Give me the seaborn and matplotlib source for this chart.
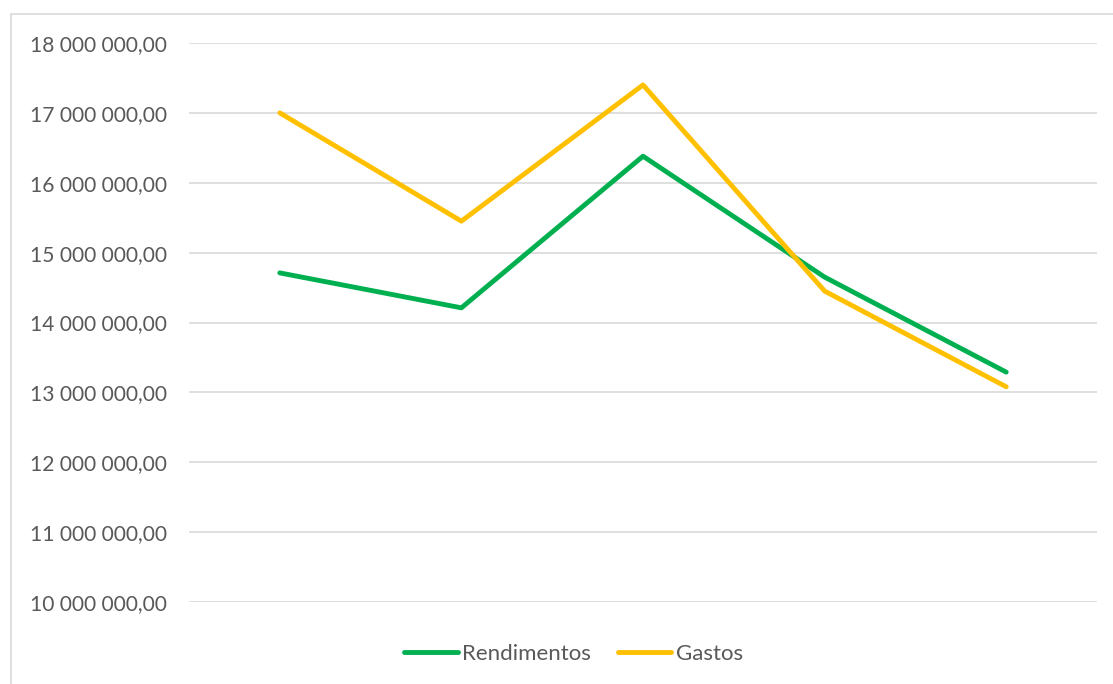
import matplotlib
matplotlib.use("Agg")
import matplotlib.pyplot as plt
import seaborn as sns
import pandas as pd
from matplotlib.patches import Rectangle
from matplotlib.lines import Line2D
from matplotlib.ticker import FuncFormatter

periods = ["P1", "P2", "P3", "P4", "P5"]
rendimentos = [14710000, 14210000, 16380000, 14650000, 13290000]
gastos = [17000000, 15450000, 17400000, 14450000, 13080000]
series_names = ["Rendimentos", "Gastos"]
colors = ["#00B050", "#FFC000"]

df = pd.DataFrame({
    "periodo": periods * 2,
    "x": list(range(len(periods))) * 2,
    "valor": rendimentos + gastos,
    "serie": [series_names[0]] * len(periods) + [series_names[1]] * len(periods),
})

sns.set_theme(style="white")
plt.rcParams["font.family"] = ["Lato", "DejaVu Sans"]

fig = plt.figure(figsize=(11.13, 6.84), dpi=100)
ax = fig.add_axes([189 / 1113, 1 - 602 / 684, (1097 - 189) / 1113, (602 - 43) / 684])

sns.lineplot(data=df, x="x", y="valor", hue="serie", palette=colors,
             linewidth=3.5, ax=ax, legend=False, solid_capstyle="round")

ax.set_xlim(-0.5, len(periods) - 0.5)
ax.set_ylim(10000000, 18000000)
ax.set_yticks(range(10000000, 18000001, 1000000))
ax.yaxis.set_major_formatter(FuncFormatter(
    lambda v, p: f"{v:,.2f}".replace(",", " ").replace(".", ",")))
ax.set_xticks([])
ax.set_xlabel("")
ax.set_ylabel("")
ax.grid(axis="y", color="#D9D9D9", linewidth=1.2)
ax.set_axisbelow(True)
for s in ax.spines.values():
    s.set_visible(False)
ax.tick_params(axis="y", length=0, pad=16, labelsize=15.1, labelcolor="#595959")

# outer chart frame
fig.patches.append(Rectangle((11 / 1113, -0.1), 1.2, 1 - 14 / 684 + 0.1,
                             transform=fig.transFigure, fill=False,
                             edgecolor="#D9D9D9", linewidth=1.2))

handles = [Line2D([0], [0], color=c, linewidth=3.5, solid_capstyle="round") for c in colors]
fig.legend(handles, series_names, loc="center", bbox_to_anchor=(0.5153, 1 - 654 / 684),
           ncol=2, frameon=False, fontsize=16, labelcolor="#595959",
           handlelength=2.4, handletextpad=0.2, columnspacing=1.2)

fig.savefig("out.png", dpi=100)
